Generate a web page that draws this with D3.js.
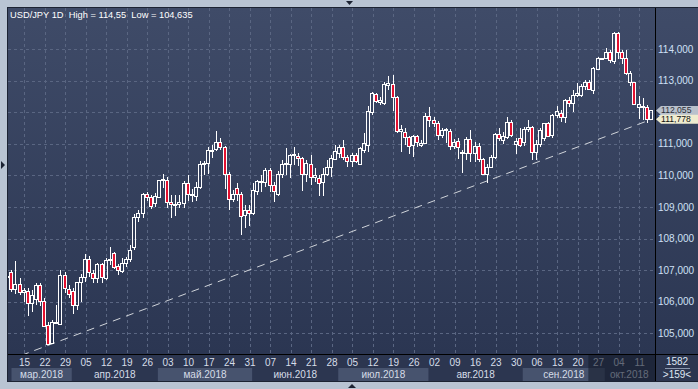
<!DOCTYPE html>
<html>
<head>
<meta charset="utf-8">
<script src="https://cdn.jsdelivr.net/npm/d3@7"></script>
<style>
  html, body { margin: 0; padding: 0; background: #b9c4d3; }
  svg { display: block; }
  text { font-family: "Liberation Sans", Arial, sans-serif; }
</style>
</head>
<body>
<svg id="chart" width="698" height="389"></svg>
<script>
'use strict';

/* ── Data: USD/JPY daily, 9 Mar – 16 Oct 2018 ── */
const dates = d3.timeDays(new Date(2018, 2, 9), new Date(2018, 9, 17))
  .filter(d => d.getDay() !== 0 && d.getDay() !== 6);

const open = [
  106.80,
  106.95,106.39,106.56,106.30,106.35, 105.95,106.08,106.53,106.02,105.26, 104.71,105.37,105.30,106.85,106.42,
  106.34,105.90,106.62,106.77,107.37, 106.90,106.74,107.19,106.74,107.32, 107.53,107.13,106.99,107.22,107.34,
  107.72,108.69,108.80,109.41,109.31, 109.12,109.33,109.85,109.85,109.17, 109.08,109.10,109.12,109.75,109.38,
  109.36,109.64,110.35,110.38,110.80, 110.83,111.05,110.91,110.06,109.25, 109.59,109.41,108.75,108.90,108.80,
  109.52,109.78,109.78,110.17,109.70, 109.40,110.06,110.36,110.35,110.65, 110.61,110.54,110.06,110.35,109.96,
  109.93,109.78,110.03,110.28,110.52, 110.70,110.89,110.59,110.47,110.65, 110.36,110.80,110.96,112.02,112.58,
  112.31,112.30,112.85,112.89,112.47, 111.42,111.38,111.20,110.96,111.25, 110.95,111.04,111.88,111.75,111.65,
  111.28,111.44,111.40,110.94,111.10, 110.74,110.72,111.14,110.72,110.93, 110.51,110.04,110.28,110.57,111.31,
  111.12,111.20,111.70,110.99,111.17, 111.07,111.46,111.52,110.73,110.99, 111.17,111.65,111.28,111.91,111.96,
  111.86,112.39,112.28,112.54,112.54, 112.83,112.97,112.70,113.36,113.70, 113.73,113.92,113.63,114.52,113.92,
  113.71,112.95,112.94,112.16,112.16, 112.18,111.78
];
const high = [
  106.85,
  107.00,107.30,106.75,106.43,106.43, 106.37,106.58,106.58,106.11,105.37, 105.42,105.90,107.01,106.95,106.53,
  106.43,106.64,106.88,107.51,107.45, 107.01,107.22,107.24,107.38,107.74, 107.59,107.19,107.38,107.41,107.80,
  108.78,108.90,109.45,109.49,109.38, 109.43,109.87,110.04,109.96,109.38, 109.38,109.38,109.82,110.01,109.57,
  109.78,110.46,110.46,110.91,110.96, 111.42,111.19,110.94,110.12,109.54, 109.75,109.49,109.06,109.06,109.75,
  109.85,110.01,110.24,110.24,109.78, 110.14,110.49,110.86,110.67,110.89, 110.70,110.59,110.49,110.64,110.22,
  110.01,110.24,110.49,110.64,110.96, 110.96,111.12,110.65,110.72,110.72, 110.89,111.33,112.20,112.65,112.62,
  112.49,112.97,113.15,113.18,112.51, 111.60,111.49,111.25,111.28,111.28, 111.12,111.96,112.17,111.84,111.73,
  111.49,111.49,111.46,111.14,111.17, 110.80,111.20,111.44,111.07,111.04, 110.54,110.36,110.65,111.35,111.49,
  111.38,111.84,111.75,111.17,111.49, 111.54,111.75,111.56,111.12,111.49, 111.67,111.70,111.94,112.20,112.07,
  112.41,112.49,112.70,112.91,112.89, 113.02,113.02,113.44,113.74,113.72, 114.02,113.97,114.55,114.55,113.97,
  113.97,113.31,112.97,112.51,112.44, 112.23,112.08
];
const low = [
  106.76,
  106.32,106.25,106.22,106.00,105.56, 105.67,105.90,105.87,105.21,104.635, 104.67,105.30,105.27,106.27,106.11,
  105.61,105.74,106.00,106.64,106.77, 106.58,106.61,106.61,106.69,107.16, 107.03,106.85,106.92,107.11,107.27,
  107.64,108.54,108.64,109.20,108.93, 109.01,109.27,109.59,108.96,108.64, 108.73,108.98,108.96,109.19,109.15,
  109.19,109.57,110.01,110.04,110.54, 110.77,110.80,109.57,108.90,109.17, 109.19,108.11,108.33,108.41,108.75,
  109.38,109.48,109.64,109.49,109.17, 109.36,109.91,110.01,109.91,110.33, 110.31,109.51,109.78,109.70,109.78,
  109.36,109.36,109.99,109.96,110.49, 110.54,110.49,110.28,110.28,110.38, 110.33,110.72,110.75,111.91,112.28,
  112.23,112.23,112.70,112.05,111.35, 110.75,110.96,110.68,110.57,110.89, 110.89,110.99,111.54,111.54,111.12,
  111.17,111.02,110.80,110.82,110.51, 110.09,110.49,110.43,110.43,110.43, 110.01,109.75,110.22,110.53,111.10,
  110.98,111.14,111.23,110.68,110.91, 110.93,111.38,110.49,110.49,110.89, 111.10,111.23,111.17,111.81,111.70,
  111.65,112.15,112.02,112.47,112.49, 112.70,112.70,112.58,113.34,113.67, 113.67,113.55,113.53,113.67,113.53,
  113.18,112.83,112.23,111.80,111.75, 111.65,111.75
];
const close = [
  106.83,
  106.39,106.56,106.32,106.36,105.95, 106.21,106.53,106.02,105.24,104.68, 105.37,105.32,106.85,106.43,106.25,
  105.90,106.62,106.80,107.37,106.93, 106.74,107.19,106.80,107.32,107.35, 107.09,107.01,107.22,107.34,107.64,
  108.69,108.82,109.41,109.31,109.03, 109.35,109.85,109.90,109.17,109.08, 109.10,109.15,109.75,109.40,109.42,
  109.64,110.36,110.40,110.80,110.78, 111.07,110.89,110.06,109.25,109.41, 109.41,108.73,108.90,108.80,109.54,
  109.82,109.82,110.17,109.70,109.51, 110.03,110.35,110.40,110.65,110.67, 110.54,110.06,110.38,109.96,110.01,
  109.75,110.03,110.28,110.54,110.77, 110.89,110.57,110.47,110.65,110.47, 110.86,111.04,112.05,112.60,112.37,
  112.39,112.89,112.91,112.49,111.42, 111.47,111.20,110.94,111.25,111.05, 111.04,111.88,111.75,111.65,111.28,
  111.44,111.46,110.94,111.07,110.89, 110.70,111.14,110.72,110.93,110.51, 110.04,110.28,110.57,111.31,111.18,
  111.25,111.70,111.28,111.10,110.96, 111.46,111.52,110.75,110.99,111.44, 111.65,111.26,111.91,112.05,111.84,
  112.39,112.28,112.54,112.60,112.83, 112.97,112.72,113.39,113.70,113.70, 113.92,113.65,114.52,113.92,113.71,
  113.23,113.23,112.26,112.25,112.19, 111.79,112.055
];

const yTicks = [105, 106, 107, 108, 109, 110, 111, 112, 113, 114];

const tickDates  = ['2018-03-15','2018-03-22','2018-03-29','2018-04-05','2018-04-12','2018-04-19','2018-04-26',
                    '2018-05-03','2018-05-10','2018-05-17','2018-05-24','2018-05-31','2018-06-07','2018-06-14',
                    '2018-06-21','2018-06-28','2018-07-05','2018-07-12','2018-07-19','2018-07-26','2018-08-02',
                    '2018-08-09','2018-08-16','2018-08-23','2018-08-30','2018-09-06','2018-09-13','2018-09-20',
                    '2018-09-27','2018-10-04','2018-10-11'];
const tickLabels = ['15','22','29','05','12','19','26','03','10','17','24','31','07','14','21','28',
                    '05','12','19','26','02','09','16','23','30','06','13','20','27','04','11'];

const monthKeys   = ['2018-03','2018-04','2018-05','2018-06','2018-07','2018-08','2018-09','2018-10'];
const monthLabels = ['мар.2018','апр.2018','май.2018','июн.2018','июл.2018','авг.2018','сен.2018','окт.2018'];

const trendPoints = [['2018-03-23', 104.635], ['2018-10-16', 111.778]];
const lastPrice   = 112.055;
const trendPrice  = 111.778;
const fadeFrom    = '2018-09-25';

/* ── Layout ─────────────────────────────────────────────── */
const W = 698, H = 389;
const PL = 8, PT = 8, PR = 655, PB = 354, AB = 381;
const fmtKey = d3.timeFormat('%Y-%m-%d');
const keys = dates.map(fmtKey);

const svg = d3.select('#chart');
const defs = svg.append('defs');

const grad = defs.append('linearGradient').attr('id', 'bg')
  .attr('x1', 0).attr('y1', 0).attr('x2', 0).attr('y2', 1);
grad.append('stop').attr('offset', '0%').attr('stop-color', '#3f4b68');
grad.append('stop').attr('offset', '100%').attr('stop-color', '#2b3652');

defs.append('clipPath').attr('id', 'plotClip')
  .append('rect').attr('x', PL).attr('y', PT).attr('width', PR - PL).attr('height', PB - PT);

const x = d3.scaleBand().domain(keys).range([6.15, 6.15 + 4.1 * keys.length]).padding(0);
const y = d3.scaleLinear().domain([105, 114]).range([333.4, 49]);
const xc = k => x(k) + x.bandwidth() / 2;

/* ── Frame ── */
svg.append('rect').attr('x', 0).attr('y', 0).attr('width', W).attr('height', H).attr('fill', '#b9c4d3');
svg.append('rect').attr('x', PL - 1).attr('y', PT - 1).attr('width', W - PL + 1).attr('height', AB - PT + 2)
  .attr('fill', '#1c2333');
svg.append('rect').attr('x', PL).attr('y', PT).attr('width', PR - PL).attr('height', PB - PT).attr('fill', 'url(#bg)');
svg.append('rect').attr('x', PR + 1).attr('y', PT).attr('width', W - PR - 1).attr('height', PB - PT).attr('fill', 'url(#bg)');
svg.append('rect').attr('x', PL).attr('y', PB + 1).attr('width', W - PL).attr('height', AB - PB - 1).attr('fill', '#2c3650');

/* ── Grid ── */
const grid = svg.append('g').attr('stroke', '#5a6682').attr('stroke-width', 1)
  .attr('stroke-dasharray', '3 3').attr('shape-rendering', 'crispEdges');
yTicks.forEach(t => {
  const yy = Math.round(y(t)) + 0.5;
  grid.append('line').attr('x1', PL).attr('x2', PR).attr('y1', yy).attr('y2', yy);
});
tickDates.forEach(k => {
  const xx = Math.floor(xc(k)) + 0.5;
  grid.append('line').attr('x1', xx).attr('x2', xx).attr('y1', PT).attr('y2', PB);
});

/* ── Trend line ── */
const [ta, tb] = trendPoints;
const slope = (tb[1] - ta[1]) / (xc(tb[0]) - xc(ta[0]));
const priceAt = px => ta[1] + slope * (px - xc(ta[0]));
svg.append('line').attr('clip-path', 'url(#plotClip)')
  .attr('x1', PL).attr('y1', y(priceAt(PL)))
  .attr('x2', xc(tb[0])).attr('y2', y(tb[1]))
  .attr('stroke', '#d0d4da').attr('stroke-width', 1).attr('stroke-dasharray', '8 6');

/* ── Candles: hollow white when up, red filled when down ── */
const cg = svg.append('g').attr('clip-path', 'url(#plotClip)').attr('shape-rendering', 'crispEdges');
keys.forEach((k, i) => {
  const c   = Math.round(xc(k));
  const up  = close[i] >= open[i];
  let yt    = Math.round(y(Math.max(open[i], close[i]))) + 0.5;
  let yb    = Math.round(y(Math.min(open[i], close[i]))) + 0.5;
  if (yb - yt < 1) yb = yt + 1;
  const yh  = Math.round(y(high[i]));
  const yl  = Math.round(y(low[i]));
  if (yh < yt) cg.append('rect').attr('x', c - 1).attr('y', yh).attr('width', 1).attr('height', yt - yh).attr('fill', '#ffffff');
  if (yl > yb) cg.append('rect').attr('x', c - 1).attr('y', yb).attr('width', 1).attr('height', yl - yb).attr('fill', '#ffffff');
  cg.append('rect')
    .attr('x', c - 2.5).attr('y', yt).attr('width', 3).attr('height', yb - yt)
    .attr('fill', up ? 'none' : '#e3102f').attr('stroke', '#ffffff').attr('stroke-width', 1);
});

/* ── Axis lines ── */
svg.append('line').attr('x1', PL).attr('x2', W).attr('y1', PB + 0.5).attr('y2', PB + 0.5)
  .attr('stroke', '#000').attr('shape-rendering', 'crispEdges');
svg.append('line').attr('x1', PR + 0.5).attr('x2', PR + 0.5).attr('y1', PT).attr('y2', AB)
  .attr('stroke', '#000').attr('shape-rendering', 'crispEdges');

/* ── Right price axis ── */
const yAxis = svg.append('g').attr('font-size', 10).attr('fill', '#cfe0f6');
yTicks.forEach(t => {
  yAxis.append('text').attr('x', 658).attr('y', y(t) + 3.5)
    .text(d3.format('.3f')(t).replace('.', ','));
});

/* ── Month bands and day labels ── */
const byMonth = d3.group(keys, k => k.slice(0, 7));
const mg = svg.append('g');
monthKeys.forEach((m, mi) => {
  const ks = byMonth.get(m);
  const x0 = Math.max(x(ks[0]), 11.5);
  const x1 = Math.min(x(ks[ks.length - 1]) + x.bandwidth(), PR);
  if (mi % 2 === 0) {
    mg.append('rect').attr('x', x0).attr('y', 368).attr('width', x1 - x0).attr('height', 13).attr('fill', '#47536e');
  }
  mg.append('text').attr('x', (x0 + x1) / 2).attr('y', 377.5)
    .attr('text-anchor', 'middle').attr('font-size', 10).attr('fill', '#d6dde8')
    .text(monthLabels[mi]);
});
tickDates.forEach((k, i) => {
  mg.append('text').attr('x', xc(k)).attr('y', 366)
    .attr('text-anchor', 'middle').attr('font-size', 10).attr('fill', '#d6dde8')
    .text(tickLabels[i]);
});

/* faded tail of the time axis */
svg.append('rect').attr('x', x(fadeFrom)).attr('y', PB + 1)
  .attr('width', PR - x(fadeFrom)).attr('height', AB - PB - 1)
  .attr('fill', '#161c2c').attr('fill-opacity', 0.6);

/* ── Corner box ── */
svg.append('text').attr('x', 677).attr('y', 365).attr('text-anchor', 'middle')
  .attr('font-size', 10).attr('fill', '#dfe7f3').text('1582');
svg.append('line').attr('x1', 665).attr('x2', 690).attr('y1', 368.5).attr('y2', 368.5)
  .attr('stroke', '#8a97ad').attr('shape-rendering', 'crispEdges');
svg.append('text').attr('x', 677).attr('y', 378).attr('text-anchor', 'middle')
  .attr('font-size', 10).attr('fill', '#dfe7f3').text('>159<');

/* ── Price tags (the trend tag sits over the last-price tag, as in the terminal) ── */
function priceTag(v, fill, ink, h) {
  const yy = y(v);
  const g = svg.append('g');
  g.append('path')
    .attr('d', `M656,${yy} L661,${yy - h / 2} L698,${yy - h / 2} L698,${yy + h / 2} L661,${yy + h / 2} Z`)
    .attr('fill', fill);
  g.append('text').attr('x', 661).attr('y', yy + 3).attr('font-size', 8.6).attr('fill', ink)
    .text(d3.format('.3f')(v).replace('.', ','));
}
priceTag(lastPrice, '#b9c1cc', '#2a2f38', 9);
priceTag(trendPrice, '#efeccf', '#111111', 9);

/* ── Title ── */
svg.append('text').attr('x', 10).attr('y', 18).attr('font-size', 9.3).attr('fill', '#ffffff')
  .attr('xml:space', 'preserve')
  .text(`USD/JPY 1D  High = ${d3.max(high).toString().replace('.', ',')}  Low = ${d3.min(low).toString().replace('.', ',')}`);

/* ── Scroll markers on the frame ── */
svg.append('path').attr('d', 'M346,1 L353,1 L349.5,5 Z').attr('fill', '#1c2333');
svg.append('path').attr('d', 'M1,161 L1,169 L5,165 Z').attr('fill', '#1c2333');
svg.append('path').attr('d', 'M348,388 L356,388 L352,384 Z').attr('fill', '#1c2333');
</script>
</body>
</html>
